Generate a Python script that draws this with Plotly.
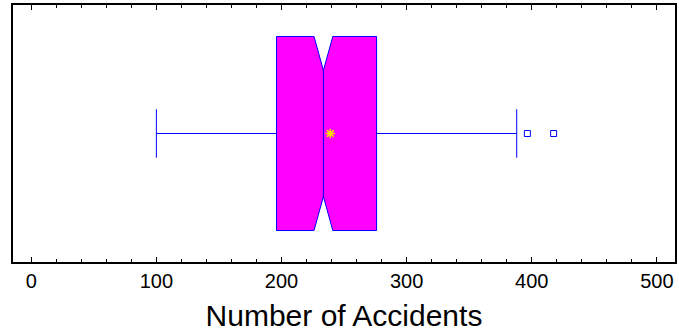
import plotly.graph_objects as go

# Data
box_q1 = [196]
box_median = [233.5]
box_q3 = [276]
box_lowerfence = [100]
box_upperfence = [388]
box_notchspan = [7.5]
box_mean = [239]
outliers = [396.5, 417.5]
x_ticks = [0, 100, 200, 300, 400, 500]

fig = go.Figure()
fig.add_trace(go.Box(
    y=[0], q1=box_q1, median=box_median, q3=box_q3,
    lowerfence=box_lowerfence, upperfence=box_upperfence,
    notchspan=box_notchspan, notched=True, notchwidth=0.175,
    orientation="h", width=0.755, whiskerwidth=0.25,
    fillcolor="#FF00FF", line=dict(color="#0000FF", width=1),
    boxpoints=False, hoverinfo="skip", showlegend=False,
))
fig.add_trace(go.Scatter(
    x=outliers, y=[0] * len(outliers), mode="markers",
    marker=dict(symbol="square-open", size=6, color="#0000FF",
                line=dict(color="#0000FF", width=1)),
    showlegend=False, hoverinfo="skip",
))
fig.add_trace(go.Scatter(
    x=box_mean, y=[0], mode="markers",
    marker=dict(symbol="asterisk-open", size=8, color="#FFE000",
                line=dict(color="#FFE000", width=1.5)),
    showlegend=False, hoverinfo="skip",
))

fig.update_layout(
    width=679, height=333,
    margin=dict(l=13, r=2, t=5, b=71),
    plot_bgcolor="white", paper_bgcolor="white",
    font=dict(family="Liberation Sans, Arial, sans-serif", color="black"),
)
fig.update_xaxes(
    range=[-14.6, 514.5], tickvals=x_ticks, ticktext=[str(v) for v in x_ticks],
    ticks="inside", ticklen=5, tickcolor="black", tickwidth=1,
    minor=dict(dtick=20, ticks="inside", ticklen=3, tickcolor="black", tickwidth=1),
    showline=True, linecolor="black", linewidth=1.5, mirror="allticks",
    showgrid=False, zeroline=False,
    tickfont=dict(size=20),
    title=dict(text="Number of Accidents", font=dict(size=30), standoff=14),
)
fig.update_yaxes(
    range=[-0.5, 0.5], showticklabels=False, ticks="",
    showline=True, linecolor="black", linewidth=1.5, mirror=True,
    showgrid=False, zeroline=False,
)

fig.write_html("out.html")
